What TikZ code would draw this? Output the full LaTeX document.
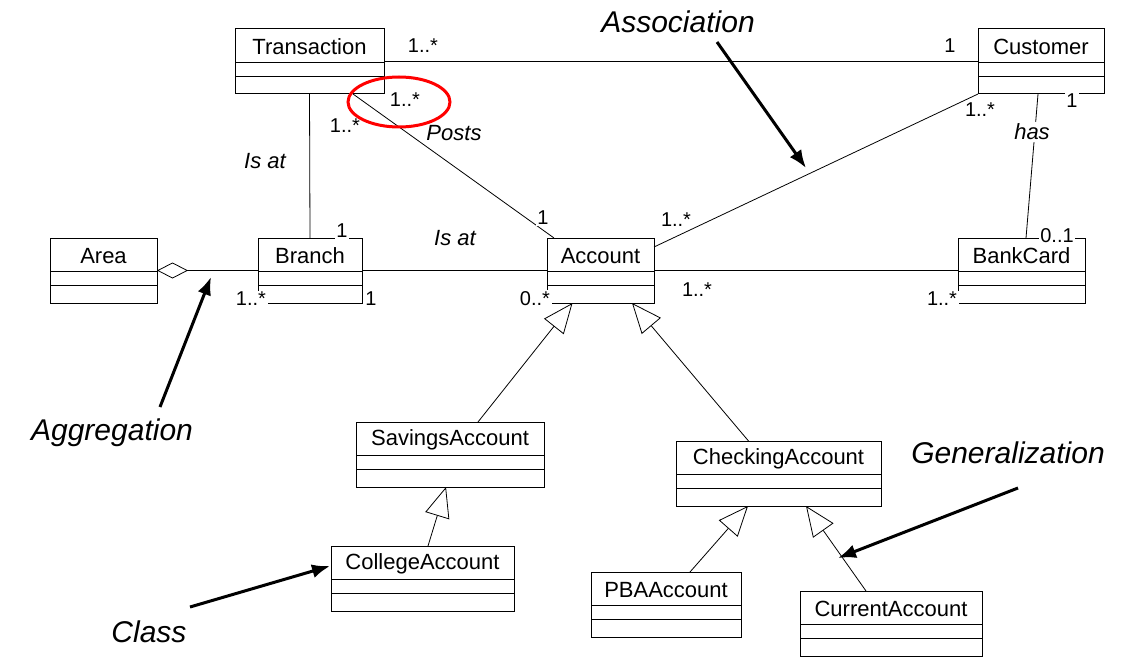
\documentclass[tikz,border=0pt]{standalone}
\usepackage{fontspec}
\setmainfont{Liberation Sans}
\usetikzlibrary{arrows.meta,calc}
\tikzset{inner sep=0pt,outer sep=0pt}

\newcommand{\umlclass}[5]{%
  \node[classbox,minimum width=#4*0.5pt] (#1) at (#2,#3) {};
  \node[font=\fontsize{11}{13}\selectfont] at ($(#1.north)+(0,18)$) {#5};
  \draw[thin] ($(#1.north west)+(0,33)$) -- ($(#1.north east)+(0,33)$);
  \draw[thin] ($(#1.north west)+(0,47)$) -- ($(#1.north east)+(0,47)$);
}

\begin{document}
\begin{tikzpicture}[x=0.5pt,y=-0.5pt,
    classbox/.style={draw,rectangle,anchor=north,minimum height=32.5pt,line width=0.5pt},
    assoc/.style={line width=0.4pt},
    gen/.style={line width=0.4pt,-{Triangle[fill=white,length=15pt,width=12.5pt]}},
    mult/.style={fill=white,inner sep=0.8pt,font=\fontsize{10}{12}\selectfont},
    role/.style={fill=white,inner sep=0.8pt,font=\fontsize{11}{13}\selectfont\itshape},
    note/.style={font=\fontsize{15}{18}\selectfont\itshape},
    pointer/.style={line width=1.5pt,-{Latex[length=9pt,width=7pt]}}]
  \useasboundingbox (0,0) rectangle (1139,668);

  \umlclass{T}{309.5}{29}{149}{Transaction}
  \umlclass{C}{1041}{29}{126}{Customer}
  \umlclass{Ar}{103.5}{238}{107}{Area}
  \umlclass{B}{310}{238}{104}{Branch}
  \umlclass{A}{600.5}{238}{107}{Account}
  \umlclass{BC}{1021.5}{238}{127}{BankCard}
  \umlclass{S}{450}{422}{188}{SavingsAccount}
  \umlclass{Ch}{778.5}{441}{205}{CheckingAccount}
  \umlclass{Co}{422.5}{546}{183}{CollegeAccount}
  \umlclass{P}{666}{572}{150}{PBAAccount}
  \umlclass{Cu}{891}{591}{182}{CurrentAccount}

  \draw[assoc] (T.east) -- (C.west);
  \draw[assoc] (T.south) -- (B.north);
  \draw[assoc] ($(T.south east)+(-31,0)$) -- ($(A.north west)+(7,0)$);
  \draw[assoc] (B.east) -- (A.west);
  \draw[assoc] (A.east) -- (BC.west);
  \draw[assoc] ($(A.north east)+(0,9)$) -- (C.south west);
  \draw[assoc] ($(C.south)+(-3,0)$) -- ($(BC.north)+(4.5,0)$);
  \draw[assoc,-{Diamond[fill=white,length=15.5pt,width=8pt]}] (B.west) -- (Ar.east);

  \draw[gen] ($(S.north)+(28,0)$) -- ($(A.south)+(-28,0)$);
  \draw[gen] ($(Ch.north)+(-30,0)$) -- ($(A.south)+(31.5,0)$);
  \draw[gen] ($(Co.north)+(5.5,0)$) -- ($(S.south)+(-4,0)$);
  \draw[gen] ($(P.north)+(24,0)$) -- ($(Ch.south)+(-30.5,0)$);
  \draw[gen] ($(Cu.north)+(-25,0)$) -- ($(Ch.south)+(27.5,0)$);

  \node[mult] at (423,46) {1..*};
  \node[mult] at (950,46) {1};
  \node[mult] at (405,100) {1..*};
  \node[mult] at (345,126) {1..*};
  \node[role] at (454,133) {Posts};
  \node[role,fill=none] at (265,161) {Is at};
  \node[mult] at (543,218) {1};
  \node[mult] at (342,231) {1};
  \node[role,fill=none] at (455,238) {Is at};
  \node[mult] at (251,299) {1..*};
  \node[mult] at (371,299) {1};
  \node[mult] at (535,299) {0..*};
  \node[mult] at (676,220) {1..*};
  \node[mult] at (697,290) {1..*};
  \node[mult] at (942,299) {1..*};
  \node[mult] at (1057,236) {0..1};
  \node[mult] at (980,110) {1..*};
  \node[mult] at (1072,101) {1};
  \node[role] at (1032,132) {has};

  \draw[red,line width=1.5pt] (399,102) ellipse [x radius=51,y radius=25];

  \node[note] (N1) at (678,22) {Association};
  \node[note] (N2) at (112,433) {Aggregation};
  \node[note] (N3) at (1008,453) {Generalization};
  \node[note] (N4) at (149,632) {Class};
  \coordinate (N1e) at (806,168);
  \coordinate (N2e) at (211,277);
  \coordinate (N3e) at (838,558);
  \coordinate (N4e) at (330,566);
  \draw[pointer] (717,42) -- (N1e);
  \draw[pointer] (160,407) -- (N2e);
  \draw[pointer] (1018,488) -- (N3e);
  \draw[pointer] (190,607) -- (N4e);
\end{tikzpicture}
\end{document}
